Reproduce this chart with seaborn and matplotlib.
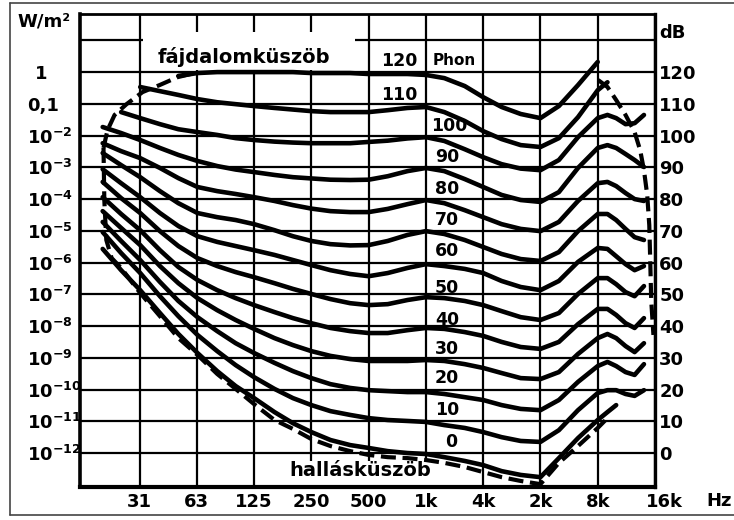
import matplotlib
matplotlib.use("Agg")
import matplotlib.pyplot as plt
import matplotlib.transforms as mtransforms
from matplotlib.patches import Rectangle
from matplotlib.lines import Line2D
import numpy as np
import pandas as pd
import seaborn as sns

# ---------------- data ----------------
freq_hz = [20, 25, 31.5, 40, 50, 63, 80, 100, 125, 160, 200, 250, 315, 400, 500,
           630, 800, 1000, 1250, 1600, 2000, 2500, 3150, 4000, 5000, 6300, 8000,
           9000, 10000, 11200, 12500, 14000]

N = None
phon_120 = [N, N, N, N, 118.8, 119.7, 120.0, 120.0, 120.0, 120.0, 120.0, 119.7, 119.7, 119.7,
            119.4, 119.4, 119.4, 119.1, 118.1, 115.6, 112.1, 109.0, 106.8, 105.5, 109.3, 115.9,
            123.2, N, N, N, N, N]
phon_110 = [N, N, 115.3, 114.0, 112.8, 111.5, 110.5, 109.9, 109.3, 108.7, 108.2, 107.7, 107.4,
            107.4, 107.4, 108.0, 108.7, 109.0, 107.4, 104.6, 101.4, 98.9, 97.0, 96.4, 99.2,
            105.8, 114.3, 116.8, N, N, N, N]
phon_100 = [N, 107.4, 105.5, 103.6, 102.0, 101.1, 100.2, 99.2, 98.6, 98.1, 97.8, 97.6, 97.6,
            97.6, 98.0, 98.4, 99.1, 99.5, 98.3, 95.7, 93.2, 91.0, 89.6, 89.1, 92.3, 99.5, 105.5,
            106.5, 105.5, 103.6, 103.9, 106.5]
phon_90 = [102.7, 100.8, 98.6, 96.1, 93.9, 92.0, 90.4, 89.3, 88.5, 87.6, 86.9, 86.5, 86.1, 86.0,
           86.1, 87.2, 88.8, 89.8, 88.8, 86.3, 83.8, 81.3, 79.7, 79.1, 82.2, 89.8, 96.1, 97.0,
           96.1, 94.2, 92.3, 90.1]
phon_80 = [97.6, 95.1, 92.9, 89.8, 86.6, 83.8, 82.5, 81.6, 80.6, 79.4, 78.1, 77.0, 76.2, 75.9,
           75.9, 76.9, 78.4, 79.7, 78.7, 76.5, 74.3, 72.1, 70.6, 69.9, 72.8, 79.4, 85.0, 85.4,
           84.1, 81.9, 80.0, 79.4]
phon_70 = [94.5, 90.7, 86.9, 82.5, 78.7, 75.6, 74.3, 73.4, 72.1, 70.2, 68.3, 66.8, 65.8, 65.4,
           65.5, 66.8, 68.7, 69.9, 69.0, 67.1, 64.9, 62.7, 61.1, 60.5, 63.3, 69.9, 75.3, 75.3,
           73.4, 70.6, 68.0, 67.1]
phon_60 = [89.4, 85.0, 80.6, 75.6, 71.5, 68.3, 66.5, 65.2, 63.9, 62.4, 60.8, 59.2, 57.6, 56.4,
           55.7, 56.7, 58.3, 59.5, 58.9, 58.0, 56.7, 54.2, 52.3, 51.3, 54.2, 60.2, 64.6, 64.3,
           62.0, 59.5, 57.6, 58.9]
phon_50 = [85.4, 80.3, 75.6, 69.9, 65.2, 61.4, 58.9, 57.0, 55.4, 53.5, 51.7, 50.1, 48.5, 47.2,
           46.6, 46.9, 48.2, 49.1, 48.8, 47.9, 46.6, 44.7, 42.8, 41.9, 44.1, 50.1, 55.1, 55.1,
           53.2, 50.7, 49.4, 52.6]
phon_40 = [80.6, 75.3, 70.2, 63.9, 58.6, 54.5, 51.3, 48.8, 46.6, 44.4, 42.5, 40.9, 39.4, 38.4,
           37.8, 37.8, 38.7, 39.4, 39.1, 38.1, 36.9, 35.0, 33.4, 32.8, 35.0, 40.6, 45.4, 45.4,
           43.5, 40.9, 39.4, 42.5]
phon_30 = [76.2, 70.9, 65.5, 58.9, 53.5, 48.8, 45.0, 41.9, 39.1, 36.2, 34.0, 32.1, 30.6, 29.6,
           29.0, 29.0, 29.0, 29.3, 29.0, 28.0, 26.8, 25.2, 23.6, 23.3, 25.5, 31.2, 36.2, 37.5,
           36.2, 33.7, 31.8, 34.6]
phon_20 = [72.8, 66.8, 60.8, 53.9, 47.9, 42.8, 38.4, 34.6, 31.5, 28.4, 25.8, 23.6, 21.7, 20.5,
           19.8, 19.5, 19.2, 19.2, 18.6, 17.6, 16.7, 15.1, 13.9, 13.5, 16.7, 22.4, 27.4, 28.7,
           27.4, 25.5, 24.6, 28.0]
phon_10 = [69.6, 63.0, 56.7, 49.4, 43.1, 37.2, 32.1, 27.7, 23.9, 20.2, 17.3, 15.1, 13.2, 12.0,
           11.0, 10.4, 10.1, 9.8, 8.8, 7.9, 6.6, 5.0, 3.8, 3.5, 7.2, 13.5, 18.9, 19.8, 19.8,
           18.6, 18.0, 19.8]
phon_0 = [64.3, 57.6, 51.3, 44.1, 37.5, 31.5, 25.8, 21.1, 17.3, 12.9, 9.4, 6.6, 4.1, 2.5, 1.6,
          0.6, 0.0, -0.3, -1.3, -2.5, -3.8, -5.7, -6.9, -7.6, -1.6, 4.7, 10.4, 12.9, 15.1,
          N, N, N]

# dashed envelope: threshold of hearing (hallásküszöb)
hear_freq = [20.2, 20.4, 20.9, 22.3, 25, 31.5, 40, 50, 63, 80, 100, 125, 160, 200, 250, 315,
             400, 500, 630, 800, 1000, 1250, 1600, 2000, 2500, 3150, 4000, 5000, 6300, 8000, 9000]
hear_level = [96.1, 79.7, 67.1, 61.4, 58.3, 50.4, 43.1, 36.2, 30.9, 24.9, 20.2, 15.4, 10.4, 7.6,
              4.4, 2.2, 0.6, -0.6, -1.3, -1.6, -2.2, -3.1, -4.4, -6.0, -7.6, -8.8, -9.8, -3.1,
              2.2, 7.9, 11.0]
# dashed envelope: threshold of pain (fájdalomküszöb), low and high frequency parts
pain_lo_freq = [20.2, 21.2, 23.1, 26.7, 32.4, 39.8, 49.5, 60.9]
pain_lo_level = [96.1, 101.7, 106.5, 109.9, 113.7, 115.9, 118.4, 119.7]
pain_hi_freq = [8040, 9000, 10000, 11200, 12500, 13370, 14000, 14560, 14930, 15100, 15280, 15700]
pain_hi_level = [117.5, 115.3, 111.2, 106.5, 101.1, 95.4, 89.1, 81.3, 71.8, 60.8, 48.2, 37.2]

phon_levels = [120, 110, 100, 90, 80, 70, 60, 50, 40, 30, 20, 10, 0]
phon_curves = [phon_120, phon_110, phon_100, phon_90, phon_80, phon_70, phon_60, phon_50,
               phon_40, phon_30, phon_20, phon_10, phon_0]

tick_freqs = [31.25, 62.5, 125, 250, 500, 1000, 2000, 4000, 8000, 16000]
tick_labels = ["31", "63", "125", "250", "500", "1k", "4k", "2k", "8k", "16k"]
db_ticks = [0, 10, 20, 30, 40, 50, 60, 70, 80, 90, 100, 110, 120, 130]
intensity_labels = [r"$\mathbf{10^{-12}}$", r"$\mathbf{10^{-11}}$", r"$\mathbf{10^{-10}}$",
                    r"$\mathbf{10^{-9}}$", r"$\mathbf{10^{-8}}$", r"$\mathbf{10^{-7}}$",
                    r"$\mathbf{10^{-6}}$", r"$\mathbf{10^{-5}}$", r"$\mathbf{10^{-4}}$",
                    r"$\mathbf{10^{-3}}$", r"$\mathbf{10^{-2}}$", "0,1", "1", ""]
db_labels = ["0", "10", "20", "30", "40", "50", "60", "70", "80", "90", "100", "110", "120", ""]

# phon label positions (frequency, level)
label_freq = [721, 721, 1321, 1290, 1290, 1290, 1290, 1290, 1290, 1290, 1290, 1290, 1354]
label_level = [123.5, 112.8, 103.0, 93.2, 83.1, 73.4, 63.6, 52.0, 41.9, 32.8, 23.6, 13.5, 3.5]

# ---------------- build long table ----------------
rows = []
for p, lv in zip(phon_levels, phon_curves):
    for f, v in zip(freq_hz, lv):
        if v is not None:
            rows.append({"phon": p, "freq": f, "level": v})
df = pd.DataFrame(rows)

# ---------------- figure ----------------
sns.set_theme(style="white")
plt.rcParams["font.family"] = ["DejaVu Sans"]
plt.rcParams["mathtext.fontset"] = "dejavusans"
plt.rcParams["text.color"] = "black"
plt.rcParams["axes.labelcolor"] = "black"
plt.rcParams["xtick.color"] = "black"
plt.rcParams["ytick.color"] = "black"
plt.rcParams["lines.solid_joinstyle"] = "round"
plt.rcParams["lines.solid_capstyle"] = "round"

W, H = 734, 520
fig = plt.figure(figsize=(W / 100, H / 100), dpi=100)
fig.patch.set_facecolor("white")
L, R, T, B = 80, 655, 14, 487
ax = fig.add_axes([L / W, 1 - B / H, (R - L) / W, (B - T) / H])
ax.set_facecolor("white")

ax.set_xscale("log", base=2)
ax.set_xlim(15.2, 16000)
ax.set_ylim(-10.7, 138.3)

# grid
ax.set_xticks(tick_freqs)
ax.set_xticklabels(tick_labels)
ax.xaxis.set_minor_locator(matplotlib.ticker.NullLocator())
ax.set_yticks(db_ticks)
ax.set_yticklabels(intensity_labels)
ax.grid(True, which="major", color="black", lw=1.6)
ax.set_axisbelow(True)

for side, lw in [("left", 2.6), ("bottom", 3.0), ("top", 2.0), ("right", 2.4)]:
    ax.spines[side].set_color("black")
    ax.spines[side].set_linewidth(lw)
    ax.spines[side].set_visible(True)

ax.tick_params(axis="both", length=0, labelsize=13, colors="black", labelcolor="black")
ax.tick_params(axis="x", pad=4.5)
ax.tick_params(axis="y", pad=38)
for lab in ax.get_yticklabels():
    lab.set_horizontalalignment("left")
    lab.set_fontweight("bold")
    lab.set_color("black")
for lab in ax.get_xticklabels():
    lab.set_fontweight("bold")
    lab.set_color("black")
# small offsets of single labels as in the original
ylabs = ax.get_yticklabels()
ylabs[12].set_transform(ylabs[12].get_transform() +
                        mtransforms.ScaledTranslation(8 / 100, 0, fig.dpi_scale_trans))
xlabs = ax.get_xticklabels()
xlabs[9].set_transform(xlabs[9].get_transform() +
                       mtransforms.ScaledTranslation(9 / 100, 0, fig.dpi_scale_trans))

# right dB axis
sec = ax.secondary_yaxis("right")
sec.set_yticks(db_ticks)
sec.set_yticklabels(db_labels)
sec.tick_params(length=0, labelsize=13, pad=3, colors="black", labelcolor="black")
for lab in sec.get_yticklabels():
    lab.set_fontweight("bold")
    lab.set_color("black")
sec.spines["right"].set_visible(False)

# white label boxes hiding grid lines
ax.add_patch(Rectangle((32.4, 120.6), 423 - 32.4, 132.6 - 120.6, facecolor="white",
                       edgecolor="none", zorder=1))
ax.add_patch(Rectangle((166, -10.1), 1185 - 166, 7.6, facecolor="white",
                       edgecolor="none", zorder=1))

# curves
sns.lineplot(data=df, x="freq", y="level", units="phon", estimator=None, color="black",
             lw=3.3, ax=ax, legend=False, zorder=3)
dash = (0, (3.6, 1.6))
sns.lineplot(x=hear_freq, y=hear_level, sort=False, color="black", lw=3.0, ax=ax,
             linestyle=dash, zorder=3)
sns.lineplot(x=pain_lo_freq, y=pain_lo_level, sort=False, color="black", lw=3.0, ax=ax,
             linestyle=dash, zorder=3)
sns.lineplot(x=pain_hi_freq, y=pain_hi_level, sort=False, color="black", lw=3.0, ax=ax,
             linestyle=dash, zorder=3)
ax.set_xlabel("")
ax.set_ylabel("")

# texts inside the plot
ax.text(110.2, 124.7, "fájdalomküszöb", fontsize=14, fontweight="bold", ha="center",
        va="center", zorder=4, color="black")
ax.text(449.4, -5.6, "hallásküszöb", fontsize=14, fontweight="bold", ha="center",
        va="center", zorder=4, color="black")
for p, f, v in zip(phon_levels, label_freq, label_level):
    ax.text(f, v, str(p), fontsize=12.5, fontweight="bold", ha="center", va="center",
            zorder=4, color="black")
ax.text(1404, 123.5, "Phon", fontsize=11, fontweight="bold", ha="center", va="center",
        zorder=4, color="black")

# figure-level labels
fig.text(17 / W, 1 - 21 / H, "W/m²", fontsize=13, fontweight="bold", ha="left", va="center",
         color="black")
fig.text(659 / W, 1 - 33 / H, "dB", fontsize=13, fontweight="bold", ha="left", va="center",
         color="black")
fig.text(706 / W, 1 - 501 / H, "Hz", fontsize=13, fontweight="bold", ha="left", va="center",
         color="black")

# outer frame of the picture (left, top, bottom)
fx0, fy0, fy1 = 10 / W, 1 - 515 / H, 1 - 3 / H
for xs, ys in [([fx0, fx0], [fy0, fy1]), ([fx0, 1], [fy1, fy1]), ([fx0, 1], [fy0, fy0])]:
    fig.add_artist(Line2D(xs, ys, transform=fig.transFigure, color="#444444", lw=1.2))

fig.savefig("out.png", dpi=100, facecolor="white")
